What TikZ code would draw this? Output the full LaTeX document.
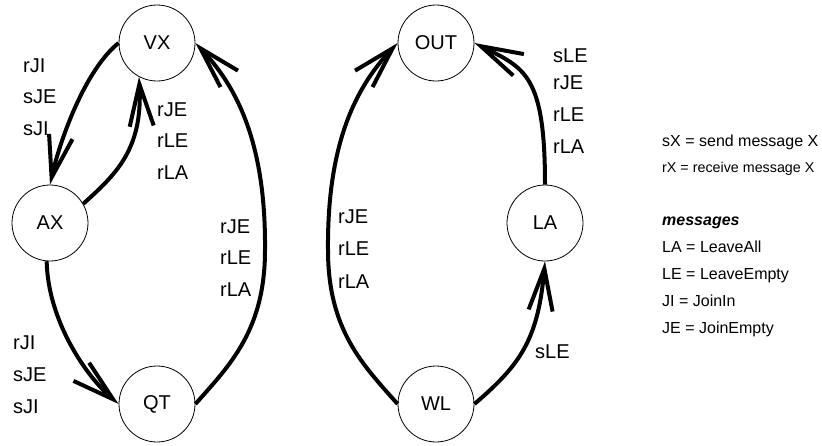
\documentclass[tikz,border=0pt]{standalone}
\usepackage{fontspec}
\setmainfont{Liberation Sans}
\usetikzlibrary{arrows.meta}
\begin{document}
\begin{tikzpicture}[x=1pt,y=-1pt,
  state/.style={circle,draw,line width=0.8pt,minimum size=76pt,inner sep=0pt,font=\fontsize{20}{24}\selectfont},
  edge/.style={line width=4pt,-{Straight Barb[length=42pt,width=24pt]}},
  lbl/.style={anchor=west,inner sep=0pt,font=\fontsize{20}{24}\selectfont},
  leg/.style={anchor=base west,inner sep=0pt,font=\fontsize{16}{19}\selectfont}]
\useasboundingbox (0,0) rectangle (822,445);
% states
\node[state] (VX) at (157,43) {VX};
\node[state] (AX) at (50,223) {AX};
\node[state] (QT) at (157,404) {QT};
\node[state] (OUT) at (436,43) {OUT};
\node[state] (LA) at (545,223) {LA};
\node[state] (WL) at (436,404) {WL};
% transitions
\draw[edge] (VX.west) .. controls (85,70) and (60,140) .. (AX.north);
\draw[edge] (AX.30) .. controls (115,175) and (143,150) .. (VX.242);
\draw[edge] (AX.265) .. controls (48,320) and (85,375) .. (QT.west);
\draw[edge] (QT.east) .. controls (230,365) and (265,330) .. (265,250) .. controls (266,140) and (235,85) .. (VX.east);
\draw[edge] (WL.west) .. controls (363,365) and (328,330) .. (328,250) .. controls (327,140) and (358,85) .. (OUT.west);
\draw[edge] (LA.north) .. controls (545,75) and (525,68) .. (OUT.east);
\draw[edge] (WL.east) .. controls (520,365) and (538,340) .. (LA.south);
% labels
\node[lbl] (a1) at (23,66) {rJI};
\node[lbl] (a2) at (23,97) {sJE};
\node[lbl] (a3) at (23,129) {sJI};
\node[lbl] (b1) at (157,110) {rJE};
\node[lbl] (b2) at (157,141) {rLE};
\node[lbl] (b3) at (157,173) {rLA};
\node[lbl] (c1) at (220,227) {rJE};
\node[lbl] (c2) at (220,258) {rLE};
\node[lbl] (c3) at (220,290) {rLA};
\node[lbl] (d1) at (13,343) {rJI};
\node[lbl] (d2) at (13,375) {sJE};
\node[lbl] (d3) at (13,407) {sJI};
\node[lbl] (e1) at (338,217) {rJE};
\node[lbl] (e2) at (338,249) {rLE};
\node[lbl] (e3) at (338,282) {rLA};
\node[lbl] (f1) at (553,56) {sLE};
\node[lbl] (f2) at (553,83) {rJE};
\node[lbl] (f3) at (553,115) {rLE};
\node[lbl] (f4) at (553,147) {rLA};
\node[lbl] (g1) at (535,352) {sLE};
% legend
\node[leg] (l1) at (662,146.5) {sX = send message X};
\node[leg,font=\fontsize{14.3}{17}\selectfont] (l2) at (662,172) {rX = receive message X};
\node[leg,font=\fontsize{16}{19}\selectfont\bfseries\itshape] (l3) at (662,225) {messages};
\node[leg] (l4) at (662,252) {LA = LeaveAll};
\node[leg] (l5) at (662,279) {LE = LeaveEmpty};
\node[leg] (l6) at (662,306) {JI = JoinIn};
\node[leg] (l7) at (662,333) {JE = JoinEmpty};
\end{tikzpicture}
\end{document}
